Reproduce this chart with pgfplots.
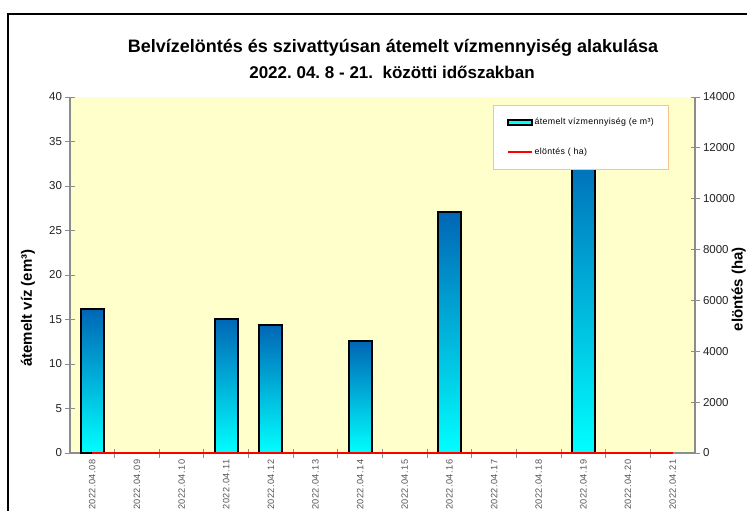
\documentclass[border=0pt]{standalone}
\usepackage{pgfplots}
\pgfplotsset{compat=1.18}
\usepackage{fontspec}
\setmainfont{Liberation Sans}
\definecolor{bg}{HTML}{FFFFCC}
\definecolor{bartop}{HTML}{0066B5}
\definecolor{barbot}{HTML}{00FFFF}
\definecolor{legbd}{HTML}{F5C58A}
\definecolor{axgray}{HTML}{8C8C8C}
\definecolor{ticklab}{HTML}{222222}
\definecolor{xlab}{HTML}{555555}
\pgfplotsset{barstyle/.style={ybar, bar width=23pt, draw=black, line width=2.2pt, top color=bartop, bottom color=barbot}}
\begin{document}
\frenchspacing
\begin{tikzpicture}
\useasboundingbox (0pt,0pt) rectangle (747pt,-511pt);
\draw[line width=1.3pt] (8pt,-530pt) -- (8pt,-14pt) -- (760pt,-14pt);
\node[font=\fontsize{18}{21}\selectfont\bfseries] at (393pt,-48pt)
  {Belvízelöntés és szivattyúsan átemelt vízmennyiség alakulása};
\node[font=\fontsize{17}{21}\selectfont\bfseries] at (392pt,-72pt)
  {2022. 04. 8 - 21.\ \ közötti időszakban};
\begin{axis}[
  at={(70pt,-453pt)}, anchor=south west, scale only axis,
  width=625pt, height=356pt,
  xmin=-0.5, xmax=13.5, ymin=0, ymax=40,
  axis x line=bottom, axis y line=left,
  axis line style={-, axgray, line width=1.3pt},
  axis background/.style={fill=bg},
  xtick={0,...,13},
  xticklabels={2022.04.08,2022.04.09,2022.04.10,2022.04.11,2022.04.12,2022.04.13,2022.04.14,2022.04.15,2022.04.16,2022.04.17,2022.04.18,2022.04.19,2022.04.20,2022.04.21},
  major x tick style={draw=none},
  minor xtick={0.5,1.5,...,12.5},
  minor x tick style={axgray, line width=1pt},
  minor tick length=9pt,
  ytick={0,5,...,40},
  major tick length=9pt,
  tick align=center,
  y tick style={axgray, line width=1pt},
  /pgf/number format/assume math mode=true,
  yticklabel style={font=\fontsize{11.5}{13}\selectfont, color=ticklab},
  xticklabel style={rotate=90, anchor=east, inner sep=2pt, font=\fontsize{9.2}{11}\selectfont\addfontfeatures{LetterSpace=5}, color=xlab},
  ylabel={átemelt víz (em³)},
  ylabel style={at={(axis description cs:-0.0672,0.407)}, anchor=center, font=\fontsize{15}{17}\selectfont\bfseries},
]
\addplot[barstyle] coordinates {(0,16.2)};
\addplot[barstyle] coordinates {(3,15.1)};
\addplot[barstyle] coordinates {(4,14.4)};
\addplot[barstyle] coordinates {(6,12.6)};
\addplot[barstyle] coordinates {(8,27.1)};
\addplot[barstyle] coordinates {(11,35)};
\end{axis}
\begin{axis}[
  at={(70pt,-453pt)}, anchor=south west, scale only axis,
  width=625pt, height=356pt,
  xmin=-0.5, xmax=13.5, ymin=0, ymax=14000,
  axis x line=none, axis y line=right,
  axis line style={-, axgray, line width=1.3pt},
  ytick={0,2000,...,14000},
  scaled y ticks=false,
  major tick length=9pt, tick align=center,
  y tick style={axgray, line width=1pt},
  /pgf/number format/assume math mode=true,
  /pgf/number format/1000 sep={},
  yticklabel style={font=\fontsize{11.5}{13}\selectfont, color=ticklab},
  ylabel={elöntés (ha)},
  ylabel style={at={(axis description cs:1.070,0.46)}, anchor=center, font=\fontsize{15}{17}\selectfont\bfseries},
  legend style={at={(0.677,0.978)}, anchor=north west, draw=legbd, line width=1pt, fill=white,
    font=\fontsize{8.8}{10}\selectfont\addfontfeatures{LetterSpace=4}, inner xsep=13pt, inner ysep=11pt, row sep=18pt},
  legend cell align=left,
]
\addlegendimage{legend image code/.code={\draw[fill=barbot, draw=black, line width=2pt] (0pt,-2.5pt) rectangle (24pt,2.5pt);}}
\addlegendentry{átemelt vízmennyiség (e m³)}
\addlegendimage{legend image code/.code={\draw[red, line width=1.8pt] (0pt,0pt) -- (24pt,0pt);}}
\addlegendentry{elöntés ( ha)}
\addplot[red, line width=1.8pt, mark=none, forget plot]
  coordinates {(0,0) (1,0) (2,0) (3,0) (4,0) (5,0) (6,0) (7,0) (8,0) (9,0) (10,0) (11,0) (12,0) (13,0)};
\end{axis}
\end{tikzpicture}
\end{document}
